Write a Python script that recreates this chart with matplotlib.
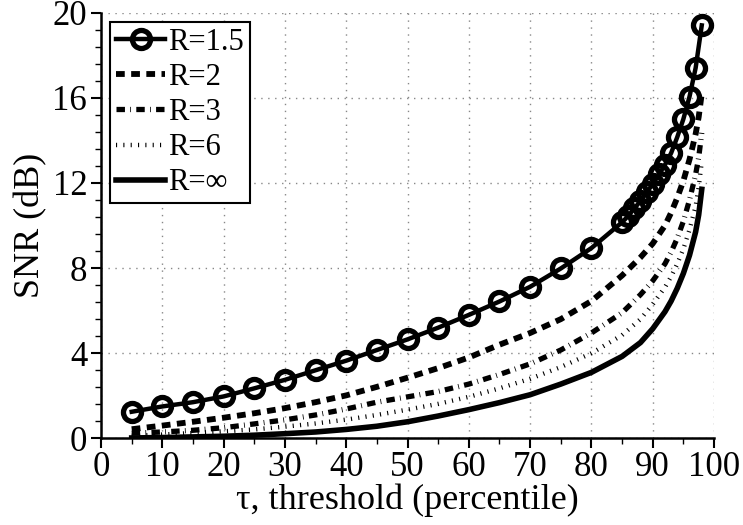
import matplotlib
matplotlib.use("Agg")
import matplotlib.pyplot as plt
from matplotlib.ticker import MultipleLocator

plt.rcParams['font.family'] = ['Liberation Serif', 'DejaVu Serif']

# R = 1.5 (markers)
x15 = [5, 10, 15, 20, 25, 30, 35, 40, 45, 50, 55, 60, 65, 70, 75, 80, 85,
       86, 87, 88, 89, 90, 91, 92, 93, 94, 95, 96, 97, 98]
y15 = [1.25, 1.5, 1.7, 1.97, 2.35, 2.75, 3.2, 3.65, 4.15, 4.65, 5.2, 5.8, 6.43, 7.12, 7.98, 8.94, 10.15,
       10.45, 10.8, 11.15, 11.55, 11.95, 12.4, 12.85, 13.4, 14.15, 15.0, 16.05, 17.4, 19.4]

# Lines
xl = [5, 10, 15, 20, 25, 30, 35, 40, 45, 50, 55, 60, 65, 70, 75, 80, 85,
      88, 90, 92, 93, 94, 95, 96, 97, 97.5, 98]
y2 = [0.43, 0.6, 0.78, 0.97, 1.18, 1.42, 1.7, 2.02, 2.42, 2.85, 3.3, 3.8, 4.4, 4.95, 5.6, 6.45, 7.65,
      8.5, 9.15, 10.0, 10.6, 11.3, 12.1, 13.1, 14.3, 15.1, 16.2]
y3 = [0.24, 0.3, 0.38, 0.5, 0.68, 0.87, 1.1, 1.38, 1.7, 1.95, 2.2, 2.55, 3.0, 3.5, 4.15, 4.95, 5.9,
      6.75, 7.4, 8.2, 8.75, 9.4, 10.2, 11.2, 12.4, 13.2, 14.35]
y6 = [0.12, 0.18, 0.25, 0.33, 0.42, 0.55, 0.7, 0.88, 1.1, 1.35, 1.62, 1.95, 2.35, 2.8, 3.35, 4.0, 4.85,
      5.6, 6.3, 7.1, 7.6, 8.2, 8.9, 9.8, 10.9, 11.8, 13.0]
yinf = [0.02, 0.04, 0.07, 0.1, 0.15, 0.22, 0.3, 0.42, 0.57, 0.78, 1.05, 1.35, 1.68, 2.05, 2.55, 3.1, 3.85,
        4.5, 5.15, 5.95, 6.45, 7.05, 7.75, 8.6, 9.7, 10.5, 11.7]

labels = ['R=1.5', 'R=2', 'R=3', 'R=6', 'R=∞']

fig = plt.figure(figsize=(7.43, 5.25), dpi=100)
ax = fig.add_axes([0.136, 0.165, 0.825, 0.811])

ax.plot(x15, y15, color='black', lw=3.2, marker='o', markersize=13, markerfacecolor='none',
        markeredgewidth=3.8, label=labels[0], zorder=5)
ax.plot(xl, y2, color='black', lw=4.2, dashes=(1.5, 1.1), label=labels[1])
ax.plot(xl, y3, color='black', lw=3.8, dashes=(1.6, 1.0, 0.15, 1.0), label=labels[2])
ax.plot(xl, y6, color='black', lw=3.2, dashes=(0.25, 1.4), label=labels[3])
ax.plot(xl, yinf, color='black', lw=4, label=labels[4])

ax.set_xlim(0, 100)
ax.set_ylim(0, 20)
ax.xaxis.set_major_locator(MultipleLocator(10))
ax.xaxis.set_minor_locator(MultipleLocator(5))
ax.yaxis.set_major_locator(MultipleLocator(4))
ax.yaxis.set_minor_locator(MultipleLocator(0.8))
ax.tick_params(axis='both', which='major', direction='out', length=7, width=1.5, labelsize=25,
               colors='black', pad=3)
ax.tick_params(axis='x', which='major', pad=2)
ax.tick_params(axis='both', which='minor', direction='out', length=4, width=1.0)
ax.grid(True, which='major', linestyle=(0, (1, 4)), color='#888888', lw=1)

for s in ['top', 'right']:
    ax.spines[s].set_visible(False)
for s in ['left', 'bottom']:
    ax.spines[s].set_linewidth(1.8)

ax.set_xlabel('τ, threshold (percentile)', fontsize=26, labelpad=0)
ax.set_ylabel('SNR (dB)', fontsize=26, labelpad=4)

leg = ax.legend(loc='upper left', fontsize=22, frameon=True, fancybox=False, edgecolor='black',
                handlelength=1.6, handletextpad=0.1, borderpad=0.2, labelspacing=0.2,
                borderaxespad=0.3, framealpha=1)
leg.get_frame().set_linewidth(1.5)

fig.savefig('out.png', dpi=100)
